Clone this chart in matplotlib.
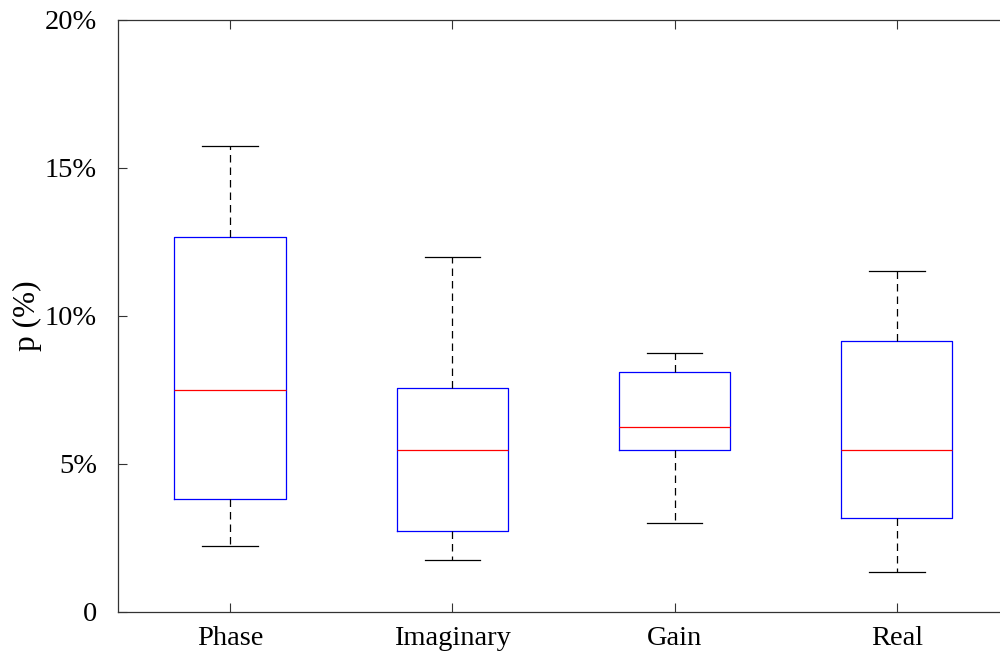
import matplotlib
matplotlib.use('Agg')
import matplotlib.pyplot as plt
from matplotlib.ticker import FixedLocator, FuncFormatter

# box statistics (percent)
labels = ['Phase', 'Imaginary', 'Gain', 'Real']
whislo = [2.23, 1.76, 3.00, 1.35]
q1 = [3.82, 2.74, 5.47, 3.18]
med = [7.50, 5.47, 6.25, 5.47]
q3 = [12.67, 7.57, 8.11, 9.16]
whishi = [15.74, 11.99, 8.75, 11.52]

plt.rcParams['font.family'] = ['Liberation Serif', 'DejaVu Serif']

stats = []
for i in range(len(labels)):
    stats.append({'label': labels[i], 'whislo': whislo[i], 'q1': q1[i],
                  'med': med[i], 'q3': q3[i], 'whishi': whishi[i], 'fliers': []})

fig = plt.figure(figsize=(10, 6.57), dpi=100)
ax = fig.add_axes([0.118, 0.0685, 0.9, 0.9011])

ax.bxp(stats, positions=[1, 2, 3, 4], widths=0.5, showfliers=False,
       boxprops=dict(color='blue', linewidth=0.9),
       medianprops=dict(color='red', linewidth=0.9),
       whiskerprops=dict(color='black', linewidth=0.9, linestyle=(0, (6, 4))),
       capprops=dict(color='black', linewidth=0.9),
       capwidths=0.25)

ax.set_xlim(0.496, 4.545)
ax.set_ylim(0, 20)
ax.yaxis.set_major_locator(FixedLocator([0, 5, 10, 15, 20]))
ax.yaxis.set_major_formatter(FuncFormatter(lambda v, p: '0' if v == 0 else f'{v:.0f}%'))
ax.set_xticks([1, 2, 3, 4])
ax.set_xticklabels(labels)
ax.tick_params(direction='in', length=6.5, width=0.8, labelsize=20.5,
               top=True, right=True, color='0.2')
ax.tick_params(axis='x', pad=10)
ax.tick_params(axis='y', pad=15)
for s in ax.spines.values():
    s.set_linewidth(0.9)
    s.set_color('0.2')
ax.set_ylabel('p (%)', fontsize=22.5, labelpad=2)

fig.savefig('out.png', dpi=100)
